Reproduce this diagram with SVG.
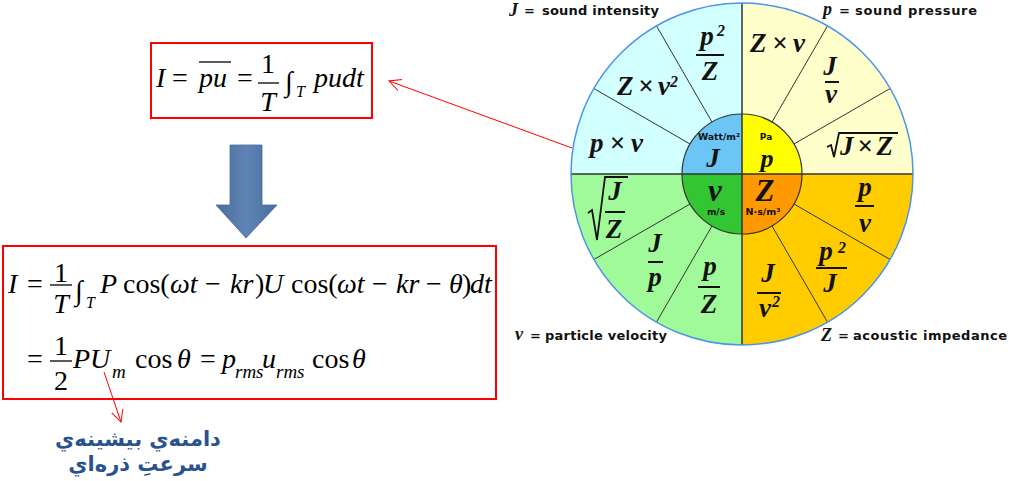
<svg xmlns="http://www.w3.org/2000/svg" width="1009" height="481" viewBox="0 0 1009 481">
<style>
.sec{font-family:"Liberation Serif","Times New Roman",serif;font-weight:bold;font-style:italic;font-size:27px;fill:#111}
.mid{text-anchor:middle}
.sup{font-size:16px}
.bar{stroke:#111;stroke-width:2}
.rad{fill:none;stroke:#111;stroke-width:1.8}
.spoke{stroke:#333;stroke-width:1}
.axis{stroke:#333;stroke-width:1.5}
.unit{font-family:"DejaVu Sans",sans-serif;font-weight:bold;font-size:9px;fill:#111;text-anchor:middle}
.big{font-family:"Liberation Serif","Times New Roman",serif;font-weight:bold;font-style:italic;fill:#111;text-anchor:middle}
.lbl{font-family:"DejaVu Sans",sans-serif;font-weight:bold;font-size:13px;fill:#111}
.var{font-family:"Liberation Serif","Times New Roman",serif;font-weight:bold;font-style:italic;font-size:18px;fill:#111}
.m{font-family:"Liberation Serif","Times New Roman",serif;font-size:28px;fill:#000}
.i{font-style:italic}
.sub{font-size:16px;font-style:italic}
.sub2{font-size:19px;font-style:italic}
.fb{stroke:#000;stroke-width:1.3}
.box{fill:#fff;stroke:#FF0000;stroke-width:2}
.red{stroke:#FF0000;stroke-width:1;fill:none}
.ar{font-family:"DejaVu Sans",sans-serif;font-weight:bold;font-size:21px;fill:#2A5290;text-anchor:middle}
</style>
<defs>
<marker id="open" markerWidth="14" markerHeight="14" refX="12" refY="7" orient="auto" markerUnits="userSpaceOnUse">
<path d="M0,1 L12,7 L0,13" fill="none" stroke="#FF0000" stroke-width="1"/>
</marker>
<linearGradient id="blueArrow" x1="0" y1="0" x2="1" y2="0">
<stop offset="0" stop-color="#4A6F9F"/>
<stop offset="0.5" stop-color="#5F84B4"/>
<stop offset="1" stop-color="#4A6F9F"/>
</linearGradient>
</defs>
<rect width="1009" height="481" fill="#fff"/>

<g id="wheel">
<path d="M742,174 L571,174 A171,171 0 0 1 742,3 Z" fill="#D2FFFF"/>
<path d="M742,174 L742,3 A171,171 0 0 1 913,174 Z" fill="#FFFFCC"/>
<path d="M742,174 L913,174 A171,171 0 0 1 742,345 Z" fill="#FFCC00"/>
<path d="M742,174 L742,345 A171,171 0 0 1 571,174 Z" fill="#A0FA9A"/>
<line class="spoke" x1="772" y1="122.04" x2="827.5" y2="25.91"/>
<line class="spoke" x1="793.96" y1="144" x2="890.09" y2="88.5"/>
<line class="spoke" x1="712" y1="122.04" x2="656.5" y2="25.91"/>
<line class="spoke" x1="690.04" y1="144" x2="593.91" y2="88.5"/>
<line class="spoke" x1="772" y1="225.96" x2="827.5" y2="322.09"/>
<line class="spoke" x1="793.96" y1="204" x2="890.09" y2="259.5"/>
<line class="spoke" x1="712" y1="225.96" x2="656.5" y2="322.09"/>
<line class="spoke" x1="690.04" y1="204" x2="593.91" y2="259.5"/>
<path d="M742,174 L682,174 A60,60 0 0 1 742,114 Z" fill="#6BC6F6"/>
<path d="M742,174 L742,114 A60,60 0 0 1 802,174 Z" fill="#FFFF00"/>
<path d="M742,174 L802,174 A60,60 0 0 1 742,234 Z" fill="#FF9900"/>
<path d="M742,174 L742,234 A60,60 0 0 1 682,174 Z" fill="#33C633"/>
<line class="axis" x1="571" y1="174" x2="913" y2="174"/>
<line class="axis" x1="742" y1="3" x2="742" y2="345"/>
<circle cx="742" cy="174" r="60" fill="none" stroke="#333" stroke-width="1.2"/>
<circle cx="742" cy="174" r="171" fill="none" stroke="#4D94E8" stroke-width="1.5"/>
</g>

<g id="sector-texts">
<text class="sec" x="750" y="52" textLength="55" lengthAdjust="spacing">Z×v</text>
<text class="sec mid" x="830" y="75">J</text>
<line class="bar" x1="825" y1="82" x2="839" y2="82"/>
<text class="sec mid" x="831" y="103">v</text>
<polyline class="rad" points="827,147 831,145 834,157 839,133 898,133"/>
<text class="sec" x="840" y="155" textLength="53" lengthAdjust="spacing">J×Z</text>
<text class="sec mid" x="707" y="45">p</text>
<text class="sec sup" x="717" y="36">2</text>
<line class="bar" x1="696" y1="55" x2="724" y2="55"/>
<text class="sec mid" x="710" y="80">Z</text>
<text class="sec" x="617" y="95" textLength="53" lengthAdjust="spacing">Z×v</text>
<text class="sec sup" x="670" y="87">2</text>
<text class="sec" x="590" y="152" textLength="53" lengthAdjust="spacing">p×v</text>
<polyline class="rad" points="588,213 592,210 597,240 605,177 628,177"/>
<text class="sec mid" x="615" y="200">J</text>
<line class="bar" x1="605" y1="212" x2="625" y2="212"/>
<text class="sec mid" x="614" y="238">Z</text>
<text class="sec mid" x="655" y="252">J</text>
<line class="bar" x1="648" y1="262" x2="663" y2="262"/>
<text class="sec mid" x="655" y="286">p</text>
<text class="sec mid" x="710" y="275">p</text>
<line class="bar" x1="698" y1="287" x2="720" y2="287"/>
<text class="sec mid" x="709" y="313">Z</text>
<text class="sec mid" x="865" y="196">p</text>
<line class="bar" x1="855" y1="206" x2="874" y2="206"/>
<text class="sec mid" x="865" y="232">v</text>
<text class="sec mid" x="826" y="260">p</text>
<text class="sec sup" x="838" y="253">2</text>
<line class="bar" x1="816" y1="268" x2="847" y2="268"/>
<text class="sec mid" x="830" y="292">J</text>
<text class="sec mid" x="768" y="282">J</text>
<line class="bar" x1="757" y1="293" x2="781" y2="293"/>
<text class="sec mid" x="765" y="317">v</text>
<text class="sec sup" x="772" y="307">2</text>
</g>

<g id="center-texts">
<text class="unit" x="719" y="140" textLength="42" lengthAdjust="spacingAndGlyphs">Watt/m²</text>
<text class="big" x="713" y="167" font-size="27">J</text>
<text class="unit" x="766" y="140">Pa</text>
<text class="big" x="767" y="167" font-size="26">p</text>
<text class="big" x="715" y="201" font-size="31">v</text>
<text class="unit" x="716" y="215">m/s</text>
<text class="big" x="765" y="201" font-size="31">Z</text>
<text class="unit" x="763" y="215" textLength="35" lengthAdjust="spacingAndGlyphs">N·s/m³</text>
</g>

<g id="label-J">
<text class="var" x="509" y="16">J</text>
<text class="lbl" x="524" y="15">=</text>
<text class="lbl" x="542" y="15" textLength="117" lengthAdjust="spacing">sound intensity</text>
</g>
<g id="label-p">
<text class="var" x="823" y="15">p</text>
<text class="lbl" x="839" y="15">=</text>
<text class="lbl" x="855" y="15" textLength="122" lengthAdjust="spacing">sound pressure</text>
</g>
<g id="label-v">
<text class="var" x="515" y="340">v</text>
<text class="lbl" x="530" y="340">=</text>
<text class="lbl" x="545" y="340" textLength="122" lengthAdjust="spacing">particle velocity</text>
</g>
<g id="label-Z">
<text class="var" x="821" y="341">Z</text>
<text class="lbl" x="838" y="340">=</text>
<text class="lbl" x="853" y="340" textLength="154" lengthAdjust="spacing">acoustic impedance</text>
</g>

<g id="formula-1">
<rect class="box" x="151" y="43" width="221" height="75"/>
<text class="m" y="87"><tspan class="i" x="156">I</tspan><tspan x="172">=</tspan><tspan class="i" x="199">pu</tspan><tspan x="237">=</tspan><tspan class="i" x="314">pudt</tspan></text>
<line class="fb" x1="199" y1="62" x2="231" y2="62"/>
<text class="m mid" x="268" y="73">1</text>
<line class="fb" x1="258" y1="83" x2="279" y2="83"/>
<text class="m mid i" x="268" y="111">T</text>
<text class="m" x="285" y="91" font-size="24">∫</text>
<text class="m sub" x="296" y="97">T</text>
</g>

<g id="down-arrow">
<polygon points="230,145 262,145 262,205 277,205 246,238 216,205 230,205" fill="url(#blueArrow)" stroke="#46699A" stroke-width="0.8"/>
</g>

<g id="formula-2">
<rect class="box" x="3" y="246" width="493" height="153"/>
<text class="m" y="293"><tspan class="i" x="8">I</tspan><tspan x="27">=</tspan><tspan class="i" x="100">P</tspan><tspan x="123">cos(</tspan><tspan class="i" x="170">ωt</tspan><tspan x="205">−</tspan><tspan class="i" x="230">kr</tspan><tspan x="255">)</tspan><tspan class="i" x="263">U</tspan><tspan x="291">cos(</tspan><tspan class="i" x="337">ωt</tspan><tspan x="372">−</tspan><tspan class="i" x="396">kr</tspan><tspan x="426">−</tspan><tspan class="i" x="449">θ</tspan><tspan x="462">)</tspan><tspan class="i" x="470">dt</tspan></text>
<text class="m mid" x="61" y="282">1</text>
<line class="fb" x1="50" y1="285" x2="72" y2="285"/>
<text class="m mid i" x="61" y="313">T</text>
<text class="m" x="75" y="300" font-size="36">∫</text>
<text class="m sub" x="86" y="308">T</text>
<text class="m" y="368"><tspan x="27">=</tspan><tspan class="i" x="73">PU</tspan><tspan x="135">cos</tspan><tspan class="i" x="177">θ</tspan><tspan x="200">=</tspan><tspan class="i" x="222">p</tspan><tspan class="i" x="262">u</tspan><tspan x="312">cos</tspan><tspan class="i" x="352">θ</tspan></text>
<text class="m sub2" x="112" y="378">m</text>
<text class="m sub2" x="235" y="378">rms</text>
<text class="m sub2" x="276" y="378">rms</text>
<text class="m mid" x="61" y="355">1</text>
<line class="fb" x1="50" y1="361" x2="72" y2="361"/>
<text class="m mid" x="61" y="390">2</text>
</g>

<g id="connectors">
<line class="red" x1="572" y1="148" x2="389" y2="81" marker-end="url(#open)"/>
<line class="red" x1="104" y1="372" x2="121" y2="422" marker-end="url(#open)"/>
</g>

<g id="note">
<text class="ar" x="138" y="446" direction="rtl">دامنه‌ي بيشينه‌ي</text>
<text class="ar" x="138" y="471" direction="rtl">سرعتِ ذره‌اي</text>
</g>
</svg>
